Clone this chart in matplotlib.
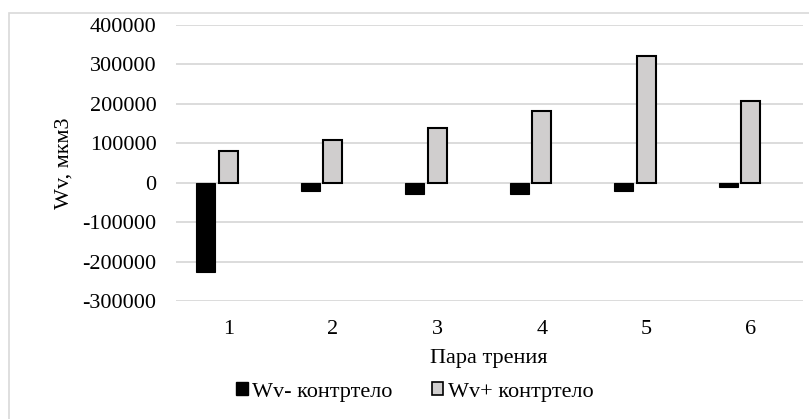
import matplotlib
matplotlib.use("Agg")
import matplotlib.pyplot as plt
from matplotlib.patches import Rectangle, Patch
import numpy as np

categories = ["1", "2", "3", "4", "5", "6"]
wv_minus = [-226000, -20000, -28000, -28000, -20000, -12000]
wv_plus = [81000, 109000, 138000, 182000, 322000, 208000]
yticks = [-300000, -200000, -100000, 0, 100000, 200000, 300000, 400000]
series_names = ["Wv- контртело", "Wv+ контртело"]

plt.rcParams['font.family'] = ['Liberation Serif', 'DejaVu Serif']

W, H = 809, 419
FS = 16
fig = plt.figure(figsize=(W / 100, H / 100), dpi=100)

# outer chart border (cropped at right/bottom)
fig.patches.append(Rectangle((9 / W, -0.1), 2, 1 - 13 / H + 0.1, transform=fig.transFigure,
                             fill=False, edgecolor='#d9d9d9', linewidth=1.2))

ax = fig.add_axes([176 / W, 1 - 301 / H, (803 - 176) / W, (301 - 25) / H])
x = np.arange(len(categories))
bw = 0.18
ax.bar(x - 0.215, wv_minus, width=bw, color='black', edgecolor='black', linewidth=0.8,
       zorder=3)
ax.bar(x, wv_plus, width=bw, color='#d0cece', edgecolor='black', linewidth=1.5, zorder=3)

ax.set_xlim(-0.5, len(categories) - 0.5)
ax.set_ylim(-300000, 400000)
ax.set_yticks(yticks)
ax.set_yticklabels([str(v) for v in yticks])
ax.set_xticks(x)
ax.set_xticklabels(categories)
ax.yaxis.grid(True, color='#d9d9d9', linewidth=1.3, zorder=0)
ax.set_axisbelow(True)
for s in ax.spines.values():
    s.set_visible(False)
ax.tick_params(axis='both', length=0, labelsize=FS, colors='#000000')
ax.tick_params(axis='y', pad=14)
ax.tick_params(axis='x', pad=14)

fig.text(489 / W, 1 - 358 / H, "Пара трения", ha='center', va='center', fontsize=FS)
fig.text(64 / W, 1 - 163 / H, "Wv, мкм3", ha='center', va='center', rotation=90, fontsize=FS)

handles = [Patch(facecolor='black', edgecolor='black', label=series_names[0]),
           Patch(facecolor='#d0cece', edgecolor='black', linewidth=1.2, label=series_names[1])]
fig.legend(handles=handles, loc='center', bbox_to_anchor=(415 / W, 1 - 392 / H), ncol=2,
           frameon=False, fontsize=FS, handlelength=0.5, handleheight=0.5,
           handletextpad=0.2, columnspacing=1.8)

fig.savefig("out.png", dpi=100)
